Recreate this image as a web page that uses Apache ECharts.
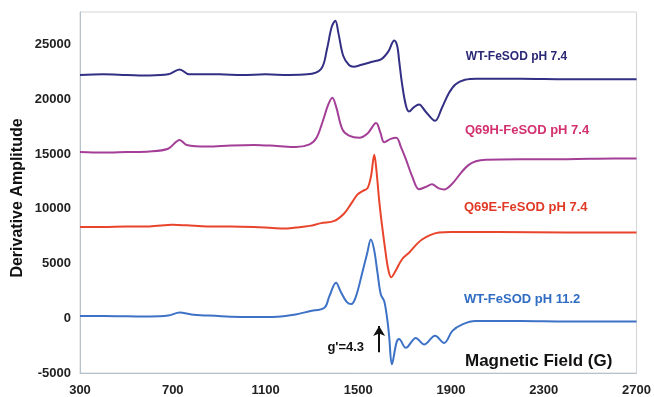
<!DOCTYPE html>
<html>
<head>
<meta charset="utf-8">
<script src="https://cdn.jsdelivr.net/npm/echarts@6/dist/echarts.min.js"></script>
<style>
  html, body { margin: 0; padding: 0; background: #fff; }
  #chart { width: 654px; height: 397px; }
</style>
</head>
<body>
<div id="chart"></div>
<script>
// EPR spectra, field in gauss, amplitude
const wt74Field = [300, 400, 500, 600, 680, 730, 770, 900, 1000, 1100, 1200, 1280, 1340, 1365, 1385, 1401, 1415, 1435, 1460, 1480, 1510, 1560, 1600, 1630, 1655, 1668, 1676, 1689, 1706, 1719, 1740, 1762, 1790, 1831, 1860, 1891, 1920, 1960, 2010, 2200, 2400, 2600, 2700];
const wt74Amp = [22250, 22300, 22250, 22200, 22300, 22750, 22300, 22300, 22250, 22300, 22250, 22300, 22800, 24600, 26600, 27200, 26000, 24000, 23150, 23000, 23150, 23450, 23700, 24400, 25400, 24900, 23600, 21400, 19400, 18900, 19300, 19550, 18900, 18050, 19200, 20600, 21400, 21800, 21900, 21900, 21850, 21850, 21850];

const q69hField = [300, 400, 500, 600, 680, 730, 760, 850, 950, 1050, 1150, 1230, 1290, 1320, 1345, 1370, 1388, 1405, 1431, 1460, 1504, 1540, 1577, 1595, 1612, 1640, 1664, 1685, 1706, 1732, 1762, 1790, 1818, 1845, 1870, 1905, 1943, 1975, 2007, 2050, 2200, 2400, 2600, 2700];
const q69hAmp = [15200, 15150, 15200, 15250, 15500, 16300, 15850, 15700, 15800, 15850, 15750, 15650, 15900, 16500, 17900, 19500, 20150, 19300, 17300, 16700, 16500, 16900, 17850, 17000, 16100, 16400, 16500, 15600, 14500, 13000, 11800, 12000, 12250, 11900, 11780, 12300, 13300, 14000, 14350, 14500, 14550, 14550, 14600, 14600];

const q69eField = [300, 400, 500, 600, 700, 760, 850, 950, 1050, 1130, 1180, 1230, 1290, 1340, 1397, 1440, 1470, 1496, 1520, 1540, 1555, 1569, 1578, 1590, 1600, 1616, 1629, 1642, 1660, 1689, 1719, 1775, 1848, 1900, 2100, 2400, 2700];
const q69eAmp = [8350, 8350, 8400, 8400, 8550, 8500, 8400, 8400, 8350, 8250, 8200, 8300, 8450, 8700, 8900, 9600, 10500, 11300, 11650, 11900, 13000, 14950, 13600, 10800, 8900, 6300, 4500, 3750, 4300, 5400, 6000, 7200, 7850, 7900, 7900, 7850, 7850];

const wt112Field = [300, 400, 500, 600, 680, 730, 780, 850, 950, 1050, 1150, 1230, 1290, 1354, 1375, 1404, 1425, 1450, 1470, 1490, 1517, 1539, 1554, 1568, 1583, 1597, 1612, 1625, 1633, 1645, 1665, 1676, 1705, 1748, 1784, 1831, 1870, 1906, 1949, 2006, 2200, 2400, 2600, 2700];
const wt112Amp = [200, 200, 180, 170, 250, 520, 350, 250, 150, 120, 150, 350, 650, 970, 2000, 3250, 2400, 1500, 1300, 2000, 4150, 6000, 7200, 6300, 4150, 2200, 1550, -100, -1600, -4200, -2200, -1900, -2700, -1800, -2400, -1600, -2250, -1150, -550, -250, -250, -300, -300, -300];

const seriesNames = ['WT-FeSOD pH 7.4', 'Q69H-FeSOD pH 7.4', 'Q69E-FeSOD pH 7.4', 'WT-FeSOD pH 11.2'];
const xTicks = [300, 700, 1100, 1500, 1900, 2300, 2700];
const yTicks = [-5000, 0, 5000, 10000, 15000, 20000, 25000];

const font = '"Liberation Sans", Arial, Helvetica, sans-serif';

function zip(xs, ys) {
    return xs.map((x, i) => [x, ys[i]]);
}

// text label next to each trace, placed in data units
function traceLabel(text, x, y, color, size) {
    return {
        symbolSize: 0,
        silent: true,
        data: [{ coord: [x, y] }],
        label: {
            show: true,
            position: 'right',
            distance: 0,
            formatter: text,
            color: color,
            fontFamily: font,
            fontWeight: 'bold',
            fontSize: size
        }
    };
}

const myChart = echarts.init(document.getElementById('chart'));

const option = {
    animation: false,
    backgroundColor: '#fff',
    grid: {
        left: 80,
        right: 16,
        top: 12,
        bottom: 24,
        show: true,
        borderColor: '#d4d4d4',
        borderWidth: 1
    },
    xAxis: {
        type: 'value',
        min: 300,
        max: 2700,
        interval: 400,
        axisLine: { show: true, onZero: false, lineStyle: { color: '#b7c3cc', width: 1 } },
        axisTick: { show: false },
        splitLine: { show: false },
        axisLabel: {
            margin: 11,
            color: '#222',
            fontFamily: font,
            fontWeight: 'bold',
            fontSize: 13,
            formatter: v => xTicks.includes(v) ? String(v) : ''
        }
    },
    yAxis: {
        type: 'value',
        min: -5000,
        max: 28000,
        interval: 5000,
        axisLine: { show: true, lineStyle: { color: '#b7c3cc', width: 1 } },
        axisTick: { show: false },
        splitLine: { show: false },
        axisLabel: {
            margin: 9,
            color: '#222',
            fontFamily: font,
            fontWeight: 'bold',
            fontSize: 13,
            formatter: v => yTicks.includes(v) ? String(v) : ''
        }
    },
    graphic: [
        {
            type: 'text',
            left: 465,
            top: 353,
            style: {
                text: 'Magnetic Field (G)',
                fill: '#111',
                font: 'bold 17px ' + font
            }
        },
        {
            type: 'text',
            x: 26,
            y: 198,
            rotation: Math.PI / 2,
            style: {
                text: 'Derivative Amplitude',
                fill: '#111',
                font: 'bold 16px ' + font,
                align: 'center',
                verticalAlign: 'bottom'
            }
        }
    ],
    series: [
        {
            name: seriesNames[0],
            type: 'line',
            data: zip(wt74Field, wt74Amp),
            showSymbol: false,
            smooth: 0.35,
            lineStyle: { color: '#332f84', width: 2 },
            markPoint: traceLabel(seriesNames[0], 1964, 23930, '#2b2876', 12)
        },
        {
            name: seriesNames[1],
            type: 'line',
            data: zip(q69hField, q69hAmp),
            showSymbol: false,
            smooth: 0.35,
            lineStyle: { color: '#a43f98', width: 2 },
            markPoint: traceLabel(seriesNames[1], 1960, 17200, '#d3316f', 13)
        },
        {
            name: seriesNames[2],
            type: 'line',
            data: zip(q69eField, q69eAmp),
            showSymbol: false,
            smooth: 0.35,
            lineStyle: { color: '#e8452c', width: 2 },
            markPoint: traceLabel(seriesNames[2], 1956, 10100, '#e03a26', 13)
        },
        {
            name: seriesNames[3],
            type: 'line',
            data: zip(wt112Field, wt112Amp),
            showSymbol: false,
            smooth: 0.35,
            lineStyle: { color: '#3d72c6', width: 2 },
            markPoint: {
                symbolSize: 0,
                silent: true,
                data: [
                    {
                        coord: [1956, 1730],
                        label: {
                            show: true, position: 'right', distance: 0,
                            formatter: seriesNames[3], color: '#2f6cc2',
                            fontFamily: font, fontWeight: 'bold', fontSize: 13
                        }
                    },
                    {
                        coord: [1446, -2650],
                        label: {
                            show: true, position: 'inside',
                            formatter: "g'=4.3", color: '#111',
                            fontFamily: font, fontWeight: 'bold', fontSize: 13
                        }
                    }
                ]
            },
            markLine: {
                silent: true,
                symbol: ['none', 'arrow'],
                symbolSize: [9, 10],
                label: { show: false },
                lineStyle: { color: '#111', width: 2, type: 'solid' },
                data: [[{ coord: [1590, -3100] }, { coord: [1590, -700] }]]
            }
        }
    ]
};

myChart.setOption(option);
</script>
</body>
</html>
